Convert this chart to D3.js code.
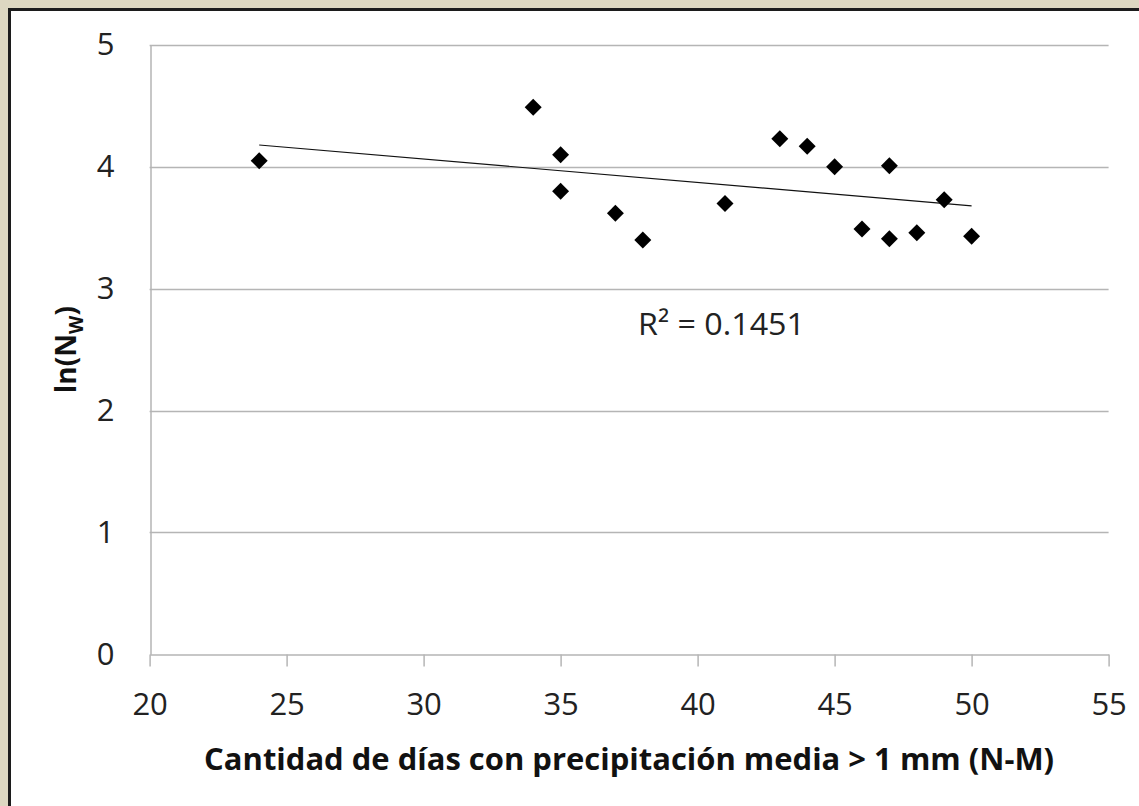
<!DOCTYPE html>
<html>
<head>
<meta charset="utf-8">
<script src="https://cdn.jsdelivr.net/npm/d3@7"></script>
<style>
  body { margin: 0; background: #ddd7c1; }
  svg { display: block; }
</style>
</head>
<body>
<svg id="chart" width="1139" height="806"></svg>
<script>
// Rainy days (Nov–Mar) vs. ln(Nw)
const daysWithRain = [24, 34, 35, 35, 37, 38, 41, 43, 44, 45, 46, 47, 47, 48, 49, 50];
const lnNw        = [4.05, 4.49, 4.10, 3.80, 3.62, 3.40, 3.70, 4.23, 4.17, 4.00, 3.49, 4.01, 3.41, 3.46, 3.73, 3.43];
const xTickValues = [20, 25, 30, 35, 40, 45, 50, 55];
const yTickValues = [0, 1, 2, 3, 4, 5];
// Linear trend line coefficients
const trendSlope = -0.0192;
const trendIntercept = 4.64;
const rSquaredText = "R\u00B2 = 0.1451";
const xTitle = "Cantidad de días con precipitación media > 1 mm (N-M)";

const svg = d3.select("#chart");
const W = 1139, H = 806;

// white panel with dark top/left edge
svg.append("rect").attr("x", 0).attr("y", 0).attr("width", W).attr("height", H).attr("fill", "#ddd7c1");
svg.append("rect").attr("x", 9).attr("y", 9).attr("width", W).attr("height", H).attr("fill", "#ffffff");
svg.append("path")
  .attr("d", `M9.5,${H} L9.5,9.5 L${W},9.5`)
  .attr("fill", "none").attr("stroke", "#1c1c1c").attr("stroke-width", 3);

const x = d3.scaleLinear().domain([20, 55]).range([149.6, 1108.6]);
const y = d3.scaleLinear().domain([0, 5]).range([654.3, 45]);

const tickFont = "'Open Sans', 'DejaVu Sans', sans-serif";

// horizontal gridlines
svg.append("g").selectAll("line").data(yTickValues.filter(d => d > 0)).join("line")
  .attr("x1", x(20)).attr("x2", x(55))
  .attr("y1", d => Math.round(y(d)) + 0.5).attr("y2", d => Math.round(y(d)) + 0.5)
  .attr("stroke", "#b5b5b5").attr("stroke-width", 1.5);

// x axis
const xAxis = svg.append("g")
  .attr("transform", `translate(0,${Math.round(y(0)) + 0.5})`)
  .call(d3.axisBottom(x).tickValues(xTickValues).tickFormat(d3.format("d"))
    .tickSize(12).tickSizeOuter(0).tickPadding(26));
xAxis.select(".domain").attr("stroke", "#b5b5b5").attr("stroke-width", 1.5);
xAxis.selectAll(".tick line").attr("stroke", "#b5b5b5").attr("stroke-width", 1.5);
xAxis.selectAll(".tick text")
  .attr("font-family", tickFont).attr("font-size", 31).attr("fill", "#222")
  .attr("dy", "0.71em");

// y axis
const yAxis = svg.append("g")
  .attr("transform", `translate(${Math.round(x(20)) + 0.5},0)`)
  .call(d3.axisLeft(y).tickValues(yTickValues).tickFormat(d3.format("d"))
    .tickSize(0).tickSizeOuter(0).tickPadding(36));
yAxis.select(".domain").attr("stroke", "#b5b5b5").attr("stroke-width", 1.5);
yAxis.selectAll(".tick text")
  .attr("font-family", tickFont).attr("font-size", 31).attr("fill", "#222");

// trend line
const [x0, x1] = d3.extent(daysWithRain);
const line = d3.line().x(d => x(d[0])).y(d => y(d[1]));
svg.append("path")
  .datum([[x0, trendIntercept + trendSlope * x0], [x1, trendIntercept + trendSlope * x1]])
  .attr("d", line)
  .attr("fill", "none").attr("stroke", "#111").attr("stroke-width", 1.2);

// diamond markers
const diamond = d3.symbol().type(d3.symbolSquare).size(144);
svg.append("g").selectAll("path").data(daysWithRain.map((d, i) => [d, lnNw[i]])).join("path")
  .attr("d", diamond)
  .attr("transform", d => `translate(${x(d[0])},${y(d[1])}) rotate(45)`)
  .attr("fill", "#000");

// R² annotation
svg.append("text")
  .attr("x", 638).attr("y", 335)
  .attr("font-family", tickFont).attr("font-size", 31).attr("fill", "#222")
  .attr("textLength", 167).attr("lengthAdjust", "spacingAndGlyphs")
  .text(rSquaredText);

// x axis title
svg.append("text")
  .attr("x", (x(20) + x(55)) / 2).attr("y", 770)
  .attr("text-anchor", "middle")
  .attr("font-family", tickFont).attr("font-weight", "bold").attr("font-size", 30).attr("fill", "#111")
  .attr("textLength", 850).attr("lengthAdjust", "spacingAndGlyphs")
  .text(xTitle);

// y axis title
const yt = svg.append("text")
  .attr("transform", `translate(76,${(y(0) + y(5)) / 2}) rotate(-90)`)
  .attr("text-anchor", "middle")
  .attr("font-family", tickFont).attr("font-weight", "bold").attr("font-size", 28).attr("fill", "#111");
yt.append("tspan").text("ln(N");
yt.append("tspan").attr("font-size", 19).attr("dy", 7).text("W");
yt.append("tspan").attr("dy", -7).text(")");
</script>
</body>
</html>
